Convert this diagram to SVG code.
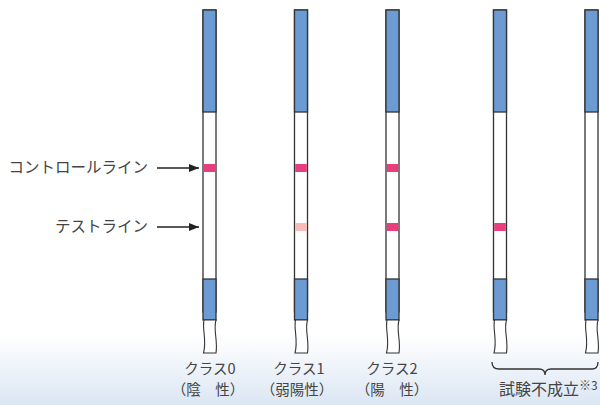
<svg xmlns="http://www.w3.org/2000/svg" width="600" height="405" viewBox="0 0 600 405">
<defs>
<linearGradient id="bg" x1="0" y1="0" x2="0" y2="1">
<stop offset="0" stop-color="#ffffff"/>
<stop offset="1" stop-color="#dbe6f3"/>
</linearGradient>
<marker id="ah" markerWidth="10" markerHeight="8" refX="10" refY="4" orient="auto" markerUnits="userSpaceOnUse">
<path d="M0,0 L10,4 L0,8 Z" fill="#222"/>
</marker>
<g id="strip">
<rect x="0" y="10" width="13" height="302" fill="#fff" stroke="#333" stroke-width="1.3"/>
<rect x="0" y="10" width="13" height="102" fill="#6b9bd2" stroke="#333" stroke-width="1.3"/>
<rect x="0" y="279" width="13" height="41" fill="#6b9bd2" stroke="#333" stroke-width="1.3"/>
<path d="M1,320 C-1,330 4,340 0.5,353 L13,353 C15,340 10,330 13,320 Z" fill="#fff" stroke="#333" stroke-width="1.1"/>
</g>
</defs>
<style>
text{font-family:"Noto Sans CJK JP","Liberation Sans",sans-serif;fill:#444;}
.lbl{font-size:14.5px;text-anchor:middle;}
.side{font-size:15.5px;text-anchor:end;}
.ctl{fill:#e83e7d;}
.weak{fill:#f7bcb6;}
</style>
<rect x="0" y="335" width="600" height="70" fill="url(#bg)"/>
<g id="strip0"><use href="#strip" x="203"/><rect class="ctl" x="203.7" y="164" width="11.6" height="8"/></g>
<g id="strip1"><use href="#strip" x="294.5"/><rect class="ctl" x="295.2" y="164" width="11.6" height="8"/><rect class="weak" x="295.2" y="223" width="11.6" height="8"/></g>
<g id="strip2"><use href="#strip" x="386"/><rect class="ctl" x="386.7" y="164" width="11.6" height="8"/><rect class="ctl" x="386.7" y="223" width="11.6" height="8"/></g>
<g id="strip3"><use href="#strip" x="493.5"/><rect class="ctl" x="494.2" y="223" width="11.6" height="8"/></g>
<g id="strip4"><use href="#strip" x="585"/></g>
<g id="connectors" stroke="#222" stroke-width="1.3" fill="none">
<line x1="157" y1="168" x2="199" y2="168" marker-end="url(#ah)"/>
<line x1="157" y1="227" x2="199" y2="227" marker-end="url(#ah)"/>
<path d="M492,362 Q492,369 499,369 L539,369 Q545,369 545,375 Q545,369 551,369 L592,369 Q598,369 598,362" stroke="#333"/>
</g>
<g id="labels">
<text class="lbl" x="210" y="374">クラス0</text>
<text class="lbl" x="208" y="395">（陰　性）</text>
<text class="lbl" x="299" y="374">クラス1</text>
<text class="lbl" x="297" y="395">（弱陽性）</text>
<text class="lbl" x="392" y="374">クラス2</text>
<text class="lbl" x="392" y="395">（陽　性）</text>
<text class="side" x="148" y="173">コントロールライン</text>
<text class="side" x="148" y="232">テストライン</text>
<text x="499" y="395" font-size="16">試験不成立<tspan font-size="12" dy="-5">※3</tspan></text>
</g>
</svg>
